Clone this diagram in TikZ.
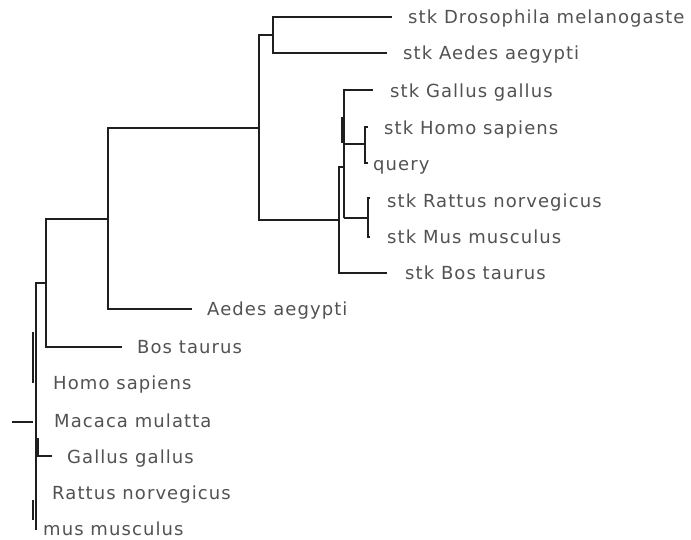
\documentclass[tikz,border=0pt]{standalone}
\usepackage{fontspec}
\setmainfont{DejaVu Sans}[LetterSpace=6]
\begin{document}
\begin{tikzpicture}[x=1pt,y=-1pt,
  br/.style={line width=2pt, draw=black!88, line join=miter},
  lbl/.style={anchor=base west, inner sep=0pt, font=\fontsize{18}{18}\selectfont, text=black!68}]
\useasboundingbox[fill=white] (0,0) rectangle (691,539);
% ---- internal nodes
\coordinate (root) at (12,422);
\coordinate (nroot) at (36,422);
\coordinate (nb) at (46,283);
\coordinate (nins) at (108,219);
\coordinate (nstk) at (259,128);
\coordinate (ndip) at (273,35);
\coordinate (nvert) at (339,220);
\coordinate (nv2) at (344,167);
\coordinate (nhq) at (365,144);
\coordinate (nrm) at (368,218);
% ---- tips
\coordinate (tdros) at (392,17);
\coordinate (taedstk) at (387,53);
\coordinate (tgalstk) at (373,90);
\coordinate (thomstk) at (368,127);
\coordinate (tquery) at (368,163);
\coordinate (tratstk) at (370,198);
\coordinate (tmusstk) at (370,237);
\coordinate (tbosstk) at (387,273);
\coordinate (taedes) at (192,309);
\coordinate (tbos) at (122,347);
\coordinate (tmus) at (36,530);
% ---- branches
\draw[br] (root) -- (33,422);
\draw[br] (nb) -| (36,530) -- (tmus);
\draw[br] (33,332) -- (33,383);
\draw[br] (33,500) -- (33,520);
\draw[br] (38,438) |- (52,456);
\draw[br] (nb) -- (46,219) -- (nins);
\draw[br] (nb) |- (tbos);
\draw[br] (nins) |- (taedes);
\draw[br] (nins) |- (nstk);
\draw[br] (nstk) |- (ndip);
\draw[br] (nstk) |- (nvert);
\draw[br] (ndip) |- (tdros);
\draw[br] (ndip) |- (taedstk);
\draw[br] (nvert) |- (nv2);
\draw[br] (nvert) |- (tbosstk);
\draw[br] (344,218) |- (tgalstk);
\draw[br] (342,117) -- (342,143);
\draw[br] (344,144) -- (nhq);
\draw[br] (344,218) -- (nrm);
\draw[br] (thomstk) -- (365,127) -- (365,163) -- (tquery);
\draw[br] (tratstk) -- (368,198) -- (368,237) -- (tmusstk);
% ---- labels
\node[lbl] (ldros) at (408,23.5) {stk Drosophila melanogaste};
\node[lbl] (laedstk) at (403,59.5) {stk Aedes aegypti};
\node[lbl] (lgalstk) at (390,97) {stk Gallus gallus};
\node[lbl] (lhomstk) at (384,134) {stk Homo sapiens};
\node[lbl] (lquery) at (373,170) {query};
\node[lbl] (lratstk) at (387,207) {stk Rattus norvegicus};
\node[lbl] (lmusstk) at (387,243.5) {stk Mus musculus};
\node[lbl] (lbosstk) at (405,279.5) {stk Bos taurus};
\node[lbl] (laedes) at (207,315.5) {Aedes aegypti};
\node[lbl] (lbos) at (137,353.5) {Bos taurus};
\node[lbl] (lhomo) at (53,389.5) {Homo sapiens};
\node[lbl] (lmac) at (54,427.5) {Macaca mulatta};
\node[lbl] (lgal) at (67,463.5) {Gallus gallus};
\node[lbl] (lrat) at (52,499.5) {Rattus norvegicus};
\node[lbl] (lmus) at (43,535) {mus musculus};
\end{tikzpicture}
\end{document}
